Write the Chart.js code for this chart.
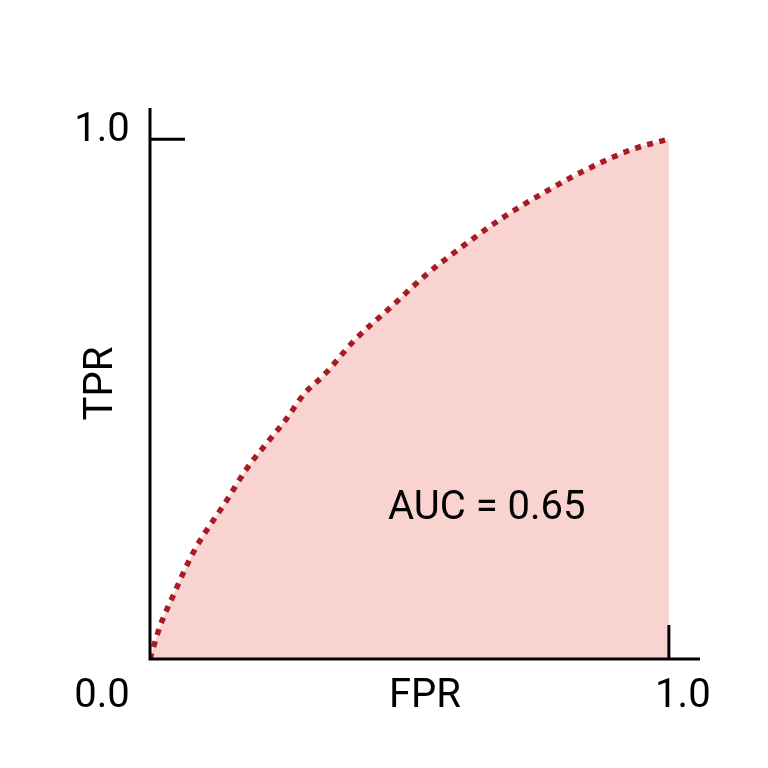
<!DOCTYPE html>
<html>
<head>
<meta charset="utf-8">
<script src="https://cdn.jsdelivr.net/npm/chart.js@4"></script>
<style>
  html, body { margin: 0; padding: 0; background: #fff; }
  #wrap { width: 768px; height: 768px; }
</style>
</head>
<body>
<div id="wrap"><canvas id="roc"></canvas></div>
<script>
// values
const fpr = [0, 0.019, 0.046, 0.084, 0.149, 0.187, 0.229, 0.260, 0.298, 0.335, 0.394, 0.463, 0.532, 0.604, 0.683, 0.759, 0.842, 0.931, 1];
const tpr = [0, 0.062, 0.125, 0.206, 0.307, 0.367, 0.420, 0.458, 0.511, 0.546, 0.613, 0.676, 0.739, 0.795, 0.851, 0.897, 0.942, 0.981, 1];
const tickLabels = ["0.0", "1.0"];
const xTitle = "FPR";
const yTitle = "TPR";
const aucText = "AUC = 0.65";

const FONT = "40px Roboto";

const axisDecor = {
  id: "axisDecor",
  afterDraw(chart) {
    const ctx = chart.ctx;
    const x = chart.scales.x, y = chart.scales.y;
    const area = chart.chartArea;
    const x0 = x.getPixelForValue(0), x1 = x.getPixelForValue(1);
    const y0 = y.getPixelForValue(0), y1 = y.getPixelForValue(1);
    ctx.save();
    ctx.strokeStyle = "#000";
    ctx.lineWidth = 3;
    ctx.lineCap = "butt";
    ctx.beginPath();
    // axis lines
    ctx.moveTo(x0, area.top); ctx.lineTo(x0, y0 + 1.5);
    ctx.moveTo(x0 - 1.5, y0); ctx.lineTo(area.right, y0);
    // ticks at 1.0
    ctx.moveTo(x0, y1); ctx.lineTo(x0 + 35, y1);
    ctx.moveTo(x1, y0); ctx.lineTo(x1, y0 - 34);
    ctx.stroke();

    ctx.fillStyle = "#000";
    ctx.font = FONT;
    ctx.textAlign = "center";
    ctx.textBaseline = "middle";
    ctx.fillText(tickLabels[1], x0 - 48, y1 - 8);
    ctx.fillText(tickLabels[0], x0 - 48, y0 + 38);
    ctx.fillText(tickLabels[1], x1 + 14, y0 + 38);
    ctx.fillText(xTitle, (area.left + area.right) / 2, y0 + 38);
    ctx.fillText(aucText, x.getPixelForValue(0.649), y.getPixelForValue(0.288));

    ctx.translate(x0 - 48, (area.top + area.bottom) / 2);
    ctx.rotate(-Math.PI / 2);
    ctx.fillText(yTitle, 0, 0);
    ctx.restore();
  }
};

new Chart(document.getElementById("roc"), {
  type: "scatter",
  data: {
    datasets: [{
      data: fpr.map((v, i) => ({ x: v, y: tpr[i] })),
      showLine: true,
      borderColor: "#a51c24",
      borderWidth: 5.5,
      borderDash: [6, 6.5],
      backgroundColor: "#f8d3d0",
      fill: "origin",
      tension: 0.4,
      cubicInterpolationMode: "monotone",
      pointRadius: 0
    }]
  },
  options: {
    responsive: true,
    maintainAspectRatio: false,
    animation: false,
    layout: { padding: { left: 150, right: 68, top: 108, bottom: 109 } },
    plugins: { legend: { display: false }, tooltip: { enabled: false } },
    scales: {
      x: {
        type: "linear", min: 0, max: 1.06, display: false
      },
      y: {
        type: "linear", min: 0, max: 1.06, display: false
      }
    }
  },
  plugins: [axisDecor]
});
</script>
</body>
</html>
